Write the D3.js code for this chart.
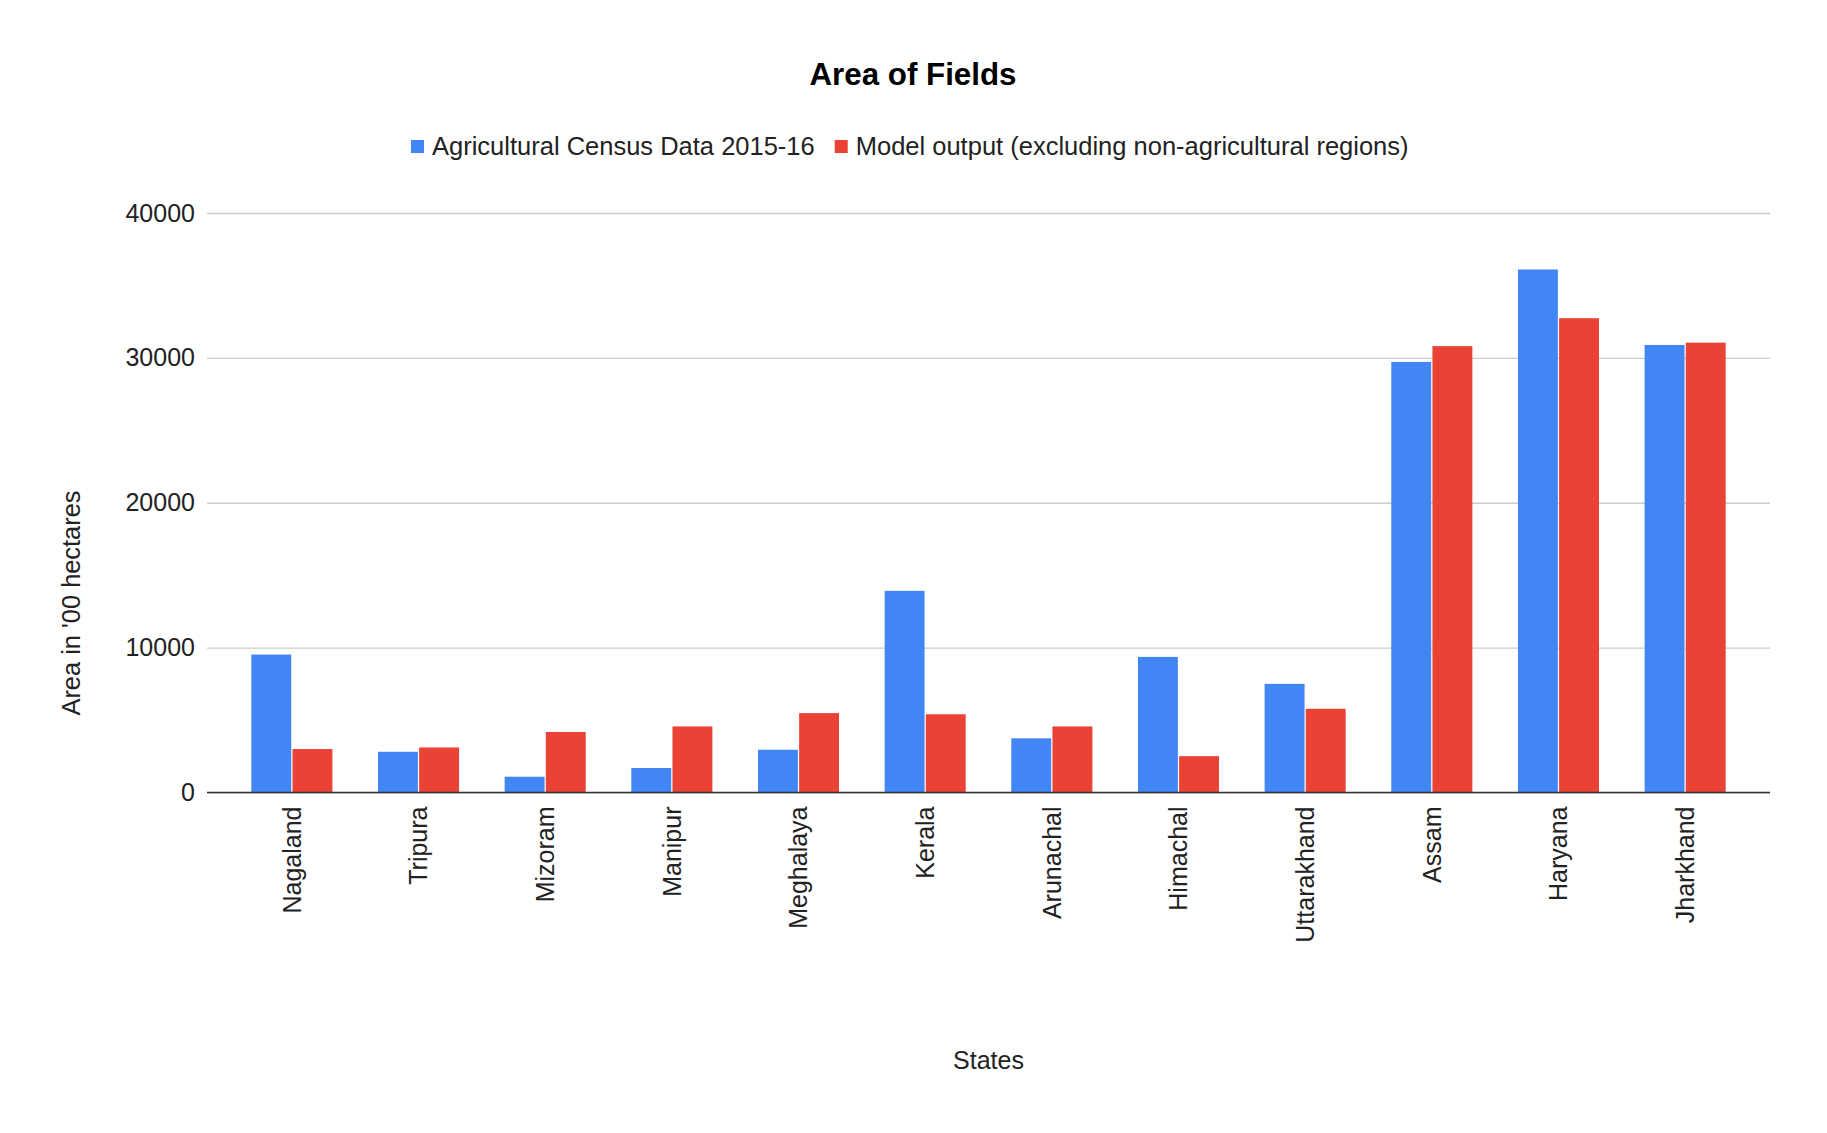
<!DOCTYPE html>
<html>
<head>
<meta charset="utf-8">
<script src="https://cdn.jsdelivr.net/npm/d3@7"></script>
<style>
  html, body { margin: 0; padding: 0; background: #fff; }
  text { font-family: Arial, "Liberation Sans", sans-serif; fill: #222; }
</style>
</head>
<body>
<svg id="chart" width="1827" height="1133"></svg>
<script>
const states = ["Nagaland","Tripura","Mizoram","Manipur","Meghalaya","Kerala","Arunachal","Himachal","Uttarakhand","Assam","Haryana","Jharkhand"];
const seriesNames = ["Agricultural Census Data 2015-16","Model output (excluding non-agricultural regions)"];
const censusValues = [9520, 2810, 1090, 1690, 2950, 13920, 3740, 9360, 7500, 29720, 36100, 30890];
const modelValues  = [3000, 3110, 4180, 4560, 5480, 5400, 4560, 2510, 5780, 30810, 32740, 31050];
const yTicks = [0, 10000, 20000, 30000, 40000];
const colors = ["#4285F4", "#EA4335"];

(function () {
const svg = d3.select("#chart");
const pLeft = 207, pRight = 1770, pTop = 213, pBottom = 792.5;

const y = d3.scaleLinear().domain([0, 40000]).range([pBottom, pTop]);
const x0 = d3.scaleBand().domain(states).range([pLeft, pRight]).paddingInner(0.36).paddingOuter(0.35);
const x1 = d3.scaleBand().domain(seriesNames).range([0, x0.bandwidth()]).paddingInner(0.03);

// Title
svg.append("text").attr("x", 913).attr("y", 85).attr("text-anchor", "middle")
  .style("font-size", "31.3px").style("font-weight", "bold").style("fill", "#000").text("Area of Fields");

// Legend
const lg = svg.append("g");
let lx = 411;
seriesNames.forEach((name, i) => {
  lg.append("rect").attr("x", lx).attr("y", 140).attr("width", 13).attr("height", 13).attr("fill", colors[i]);
  const t = lg.append("text").attr("x", lx + 21).attr("y", 155).style("font-size", "25.5px").text(name);
  lx = lx + 21 + t.node().getComputedTextLength() + 20;
});

// Gridlines
const yAxis = d3.axisLeft(y).tickValues(yTicks).tickSize(-(pRight - pLeft)).tickPadding(12).tickFormat(d3.format("d"));
const ga = svg.append("g").attr("transform", `translate(${pLeft},0)`).call(yAxis);
ga.select(".domain").remove();
ga.selectAll(".tick line").attr("stroke", "#cccccc").attr("stroke-width", 1.3);
ga.selectAll(".tick text").style("font-size", "25px").attr("fill", "#222").attr("x", -12);

// Bars
const data = states.map((s, i) => ({ state: s, vals: [censusValues[i], modelValues[i]] }));
const groups = svg.append("g").selectAll("g").data(data).join("g")
  .attr("transform", d => `translate(${x0(d.state)},0)`);
groups.selectAll("rect").data(d => d.vals.map((v, i) => ({ v, i })))
  .join("rect")
  .attr("x", d => x1(seriesNames[d.i]))
  .attr("y", d => y(d.v))
  .attr("width", x1.bandwidth())
  .attr("height", d => y(0) - y(d.v))
  .attr("fill", d => colors[d.i]);

// Baseline
svg.append("line").attr("x1", pLeft).attr("x2", pRight).attr("y1", y(0)).attr("y2", y(0))
  .attr("stroke", "#333").attr("stroke-width", 1.5);

// X labels
const xAxis = d3.axisBottom(x0).tickSize(0).tickPadding(0);
const gx = svg.append("g").attr("transform", `translate(0,${pBottom})`).call(xAxis);
gx.select(".domain").remove();
gx.selectAll(".tick text")
  .style("font-size", "25px").attr("fill", "#222")
  .attr("text-anchor", "end")
  .attr("transform", "translate(0,14) rotate(-90)")
  .attr("x", 0).attr("y", 0).attr("dy", "0.35em");

// Axis titles
svg.append("text").attr("x", (pLeft + pRight) / 2).attr("y", 1069).attr("text-anchor", "middle")
  .style("font-size", "25px").text("States");
svg.append("text").attr("transform", "translate(80,603) rotate(-90)").attr("text-anchor", "middle")
  .style("font-size", "25.4px").text("Area in '00 hectares");
})();
</script>
</body>
</html>
